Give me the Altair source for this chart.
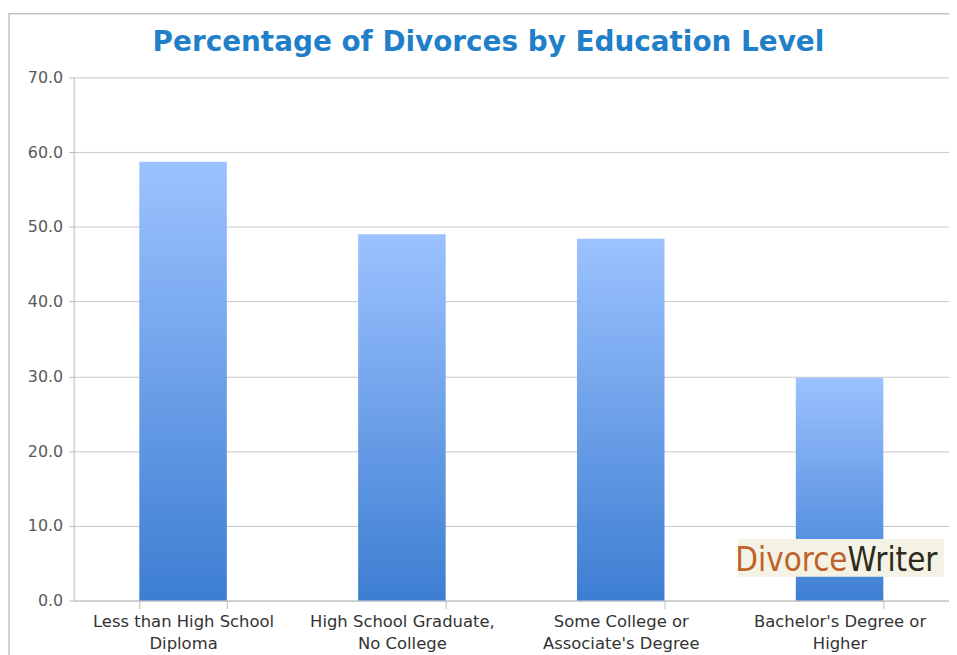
import altair as alt
import pandas as pd

categories = [
    "Less than High School Diploma",
    "High School Graduate, No College",
    "Some College or Associate's Degree",
    "Bachelor's Degree or Higher",
]
label_line1 = ["Less than High School", "High School Graduate,", "Some College or", "Bachelor's Degree or"]
label_line2 = ["Diploma", "No College", "Associate's Degree", "Higher"]
values = [58.7, 49.0, 48.4, 29.8]
title_text = "Percentage of Divorces by Education Level"

df = pd.DataFrame({"category": categories, "pct": values})

label_expr = " : ".join(
    f"datum.value == \"{c}\" ? [\"{a}\", \"{b}\"]" for c, a, b in zip(categories, label_line1, label_line2)
) + " : datum.label"

W, H = 880, 526

grad = alt.Gradient(
    gradient="linear",
    stops=[alt.GradientStop(color="#9CC2FF", offset=0), alt.GradientStop(color="#3D7ED2", offset=1)],
    x1=0, x2=0, y1=0, y2=1,
)

bars = alt.Chart(df).mark_bar(color=grad).encode(
    x=alt.X("category:N", sort=categories, title=None,
            scale=alt.Scale(paddingInner=0.6, paddingOuter=0.3),
            axis=alt.Axis(labelExpr=label_expr, labelAngle=0, labelFont="DejaVu Sans",
                          labelFontSize=16.5, labelColor="#333333", labelPadding=5,
                          labelLimit=400, labelOverlap=False,
                          labelLineHeight=22, tickBand="extent", tickSize=8,
                          tickColor="#bbbbbb", domainColor="#bbbbbb", grid=False)),
    y=alt.Y("pct:Q", title=None,
            scale=alt.Scale(domain=[0, 70], nice=False),
            axis=alt.Axis(values=[0, 10, 20, 30, 40, 50, 60, 70], format=".1f",
                          labelFont="DejaVu Sans", labelFontSize=16, labelColor="#5a5a5a",
                          labelPadding=6, tickSize=5, tickColor="#bbbbbb",
                          domainColor="#bbbbbb", gridColor="#c8c8c8")),
)

one = pd.DataFrame({"a": [0]})

frame = alt.Chart(one).mark_rect(
    fill="transparent", stroke="#c4c4c4", strokeWidth=1.5
).encode(x=alt.value(-65), x2=alt.value(900), y=alt.value(-64), y2=alt.value(620))

title = alt.Chart(pd.DataFrame({"t": [title_text]})).mark_text(
    align="center", baseline="middle", font="DejaVu Sans", fontSize=28, fontWeight="bold",
    color="#1F7FC8").encode(text="t:N", x=alt.value(417), y=alt.value(-34))

logo_font = "Liberation Sans Narrow, DejaVu Sans Condensed, Roboto Condensed, Roboto"
logo_bg = alt.Chart(one).mark_rect(color="#F4F2E4").encode(
    x=alt.value(668), x2=alt.value(875), y=alt.value(464), y2=alt.value(502))
logo1 = alt.Chart(pd.DataFrame({"t": ["Divorce"]})).mark_text(
    align="right", baseline="alphabetic", font=logo_font, fontSize=33,
    color="#C0622B").encode(text="t:N", x=alt.value(778), y=alt.value(496))
logo2 = alt.Chart(pd.DataFrame({"t": ["Writer"]})).mark_text(
    align="left", baseline="alphabetic", font=logo_font, fontSize=33,
    color="#2B2A1C").encode(text="t:N", x=alt.value(778), y=alt.value(496))

chart = alt.layer(frame, bars, logo_bg, logo1, logo2, title).properties(
    width=W, height=H,
    autosize=alt.AutoSizeParams(type="none"),
    padding={"left": 66, "top": 68, "right": 0, "bottom": 53},
).configure_view(stroke=None)

chart.save("out.html", embed_options={"renderer": "svg", "actions": False})
